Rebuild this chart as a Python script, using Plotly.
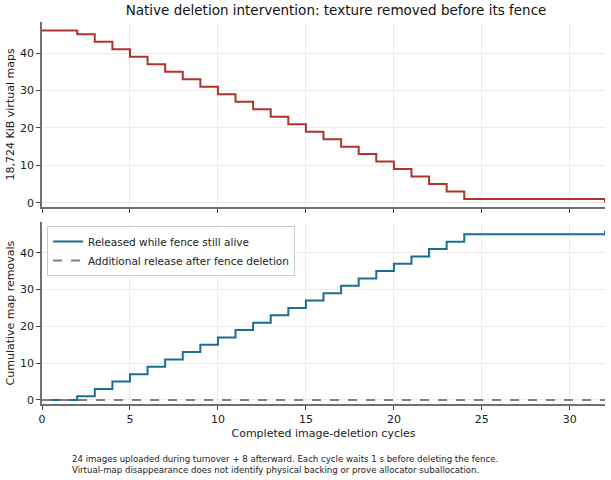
import plotly.graph_objects as go
from plotly.subplots import make_subplots

# completed deletion cycles
cycles = list(range(0, 33))

# 18,724 KiB virtual maps still present
virtual_maps = [46, 46, 45, 43, 41, 39, 37, 35, 33, 31, 29, 27, 25, 23, 21, 19, 17,
                15, 13, 11, 9, 7, 5, 3, 1, 1, 1, 1, 1, 1, 1, 1, 0]

# cumulative removals while fence alive
released_alive = [0, 0, 1, 3, 5, 7, 9, 11, 13, 15, 17, 19, 21, 23, 25, 27, 29,
                  31, 33, 35, 37, 39, 41, 43, 45, 45, 45, 45, 45, 45, 45, 45, 46]

# additional release after fence deletion
released_after = [0] * 33

title = "Native deletion intervention: texture removed before its fence"
note = ("24 images uploaded during turnover + 8 afterward. Each cycle waits 1 s before deleting the fence.<br>"
        "Virtual-map disappearance does not identify physical backing or prove allocator suballocation.")

fig = make_subplots(rows=2, cols=1, shared_xaxes=True, vertical_spacing=0.04)

fig.add_trace(
    go.Scatter(x=cycles, y=virtual_maps, mode="lines", line=dict(color="#b2332e", width=2, shape="hv"),
               showlegend=False),
    row=1, col=1,
)
fig.add_trace(
    go.Scatter(x=cycles, y=released_alive, mode="lines", name="Released while fence still alive",
               line=dict(color="#17708f", width=2, shape="hv")),
    row=2, col=1,
)
fig.add_trace(
    go.Scatter(x=cycles, y=released_after, mode="lines", name="Additional release after fence deletion",
               line=dict(color="#7f7f7f", width=2, dash="dash", shape="hv")),
    row=2, col=1,
)

axis_style = dict(showline=True, linecolor="#707070", linewidth=1.6, ticks="outside", ticklen=4,
                  tickcolor="#444", gridcolor="#ececec", zeroline=False, mirror=False, automargin=False,
                  tickfont=dict(size=11, color="#222"))

fig.update_xaxes(range=[0, 32], dtick=5, **axis_style)
fig.update_xaxes(title_text="Completed image-deletion cycles", title_font=dict(size=11, color="#222"),
                 title_standoff=4, row=2, col=1)
fig.update_yaxes(range=[-1.1, 48.3], dtick=10, **axis_style)
fig.update_yaxes(title_text="18,724 KiB virtual maps", title_font=dict(size=11, color="#222"),
                 title_standoff=3, row=1, col=1)
fig.update_yaxes(title_text="Cumulative map removals", title_font=dict(size=11, color="#222"),
                 title_standoff=3, row=2, col=1)
fig.update_yaxes(domain=[0.516, 1.0], row=1, col=1)
fig.update_yaxes(domain=[0.0, 0.476], row=2, col=1)

fig.update_layout(
    width=611, height=480,
    margin=dict(l=42, r=6, t=22, b=76),
    plot_bgcolor="white", paper_bgcolor="white",
    font=dict(family="DejaVu Sans", color="#222"),
    title=dict(text=title, x=0.55, xanchor="center", y=0.988, yanchor="top",
               font=dict(size=13.5, color="#111")),
    legend=dict(x=0.009, y=0.466, xanchor="left", yanchor="top", bordercolor="#cccccc", borderwidth=1,
                bgcolor="rgba(255,255,255,0.85)", font=dict(size=10.5, color="#222"),
                itemwidth=30, tracegroupgap=0),
    annotations=[dict(text=note, xref="paper", yref="paper", x=0.05, y=-0.125, xanchor="left",
                      yanchor="top", align="left", showarrow=False, font=dict(size=8.6, color="#222"))],
)

# the page body has a default 8px margin; drop it so the figure fills the window
fig.write_html("out.html", config={"displayModeBar": False},
               post_script="document.body.style.margin='0px';")
